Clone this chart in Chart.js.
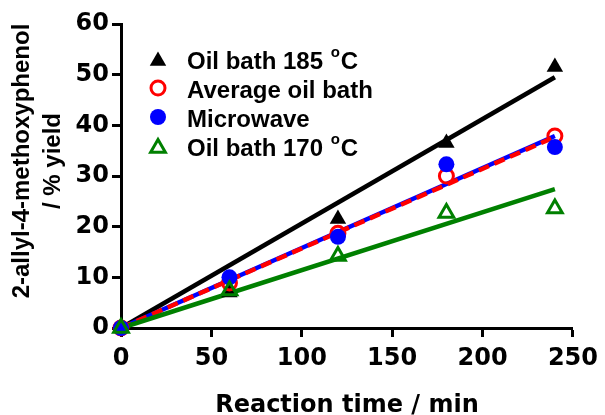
<!DOCTYPE html>
<html>
<head>
<meta charset="utf-8">
<script src="https://cdn.jsdelivr.net/npm/chart.js@4.4.1/dist/chart.umd.min.js"></script>
<style>
  html, body { margin: 0; padding: 0; background: #fff; }
</style>
</head>
<body>
<canvas id="chart" width="605" height="415"></canvas>
<script>
// reaction time (min) and yields (%)
const times = [0, 60, 120, 180, 240];
const oil185 = [0, 7.0, 21.5, 36.5, 51.5];
const oilAvg = [0, 8.9, 18.7, 30.0, 37.9];
const microwave = [0, 10.0, 18.0, 32.3, 35.7];
const oil170 = [0, 7.4, 14.2, 22.7, 23.6];

// linear fits (through origin), end values at 240 min
const fitTimes = [0, 240];
const fit185 = [0, 49.5];
const fitAvg = [0, 37.7];
const fitMicrowave = [0, 37.9];
const fit170 = [0, 27.4];

const xTicks = [0, 50, 100, 150, 200, 250];
const yTicks = [0, 10, 20, 30, 40, 50, 60];

const seriesLabels = ['Oil bath 185 °C', 'Average oil bath', 'Microwave', 'Oil bath 170 °C'];
const xTitle = 'Reaction time / min';
const yTitle = ['2-allyl-4-methoxyphenol', '/ % yield'];

const xy = (xs, ys) => xs.map((x, i) => ({ x, y: ys[i] }));

const BLACK = '#000000', RED = '#ff0000', BLUE = '#0000ff', GREEN = '#008000';

const fitLine = (data, color, extra) => Object.assign({
  data,
  showLine: true,
  borderColor: color,
  backgroundColor: color,
  borderWidth: 4.5,
  pointRadius: 0,
  clip: false,
  order: 10
}, extra || {});

const markers = [
  { label: seriesLabels[0], data: xy(times, oil185), pointStyle: 'triangle', pointRadius: 9.5,
    backgroundColor: BLACK, borderColor: BLACK, borderWidth: 0, order: 4 },
  { label: seriesLabels[1], data: xy(times, oilAvg), pointStyle: 'circle', pointRadius: 7,
    backgroundColor: 'rgba(255,255,255,0)', borderColor: RED, borderWidth: 3, order: 3 },
  { label: seriesLabels[2], data: xy(times, microwave), pointStyle: 'circle', pointRadius: 8,
    backgroundColor: BLUE, borderColor: BLUE, borderWidth: 0, order: 2 },
  { label: seriesLabels[3], data: xy(times, oil170), pointStyle: 'triangle', pointRadius: 8.5,
    backgroundColor: 'rgba(255,255,255,0)', borderColor: GREEN, borderWidth: 3, order: 1 }
].map(d => Object.assign({ showLine: false, clip: false, pointHoverRadius: d.pointRadius }, d));

// legend inside the plot + axis titles
const decorations = {
  id: 'decorations',
  afterDraw(chart) {
    const ctx = chart.ctx;
    const area = chart.chartArea;

    ctx.save();
    ctx.fillStyle = BLACK;
    ctx.textBaseline = 'alphabetic';

    // x title
    ctx.font = 'bold 24px "DejaVu Sans"';
    ctx.textAlign = 'center';
    ctx.fillText(xTitle, (area.left + area.right) / 2, 412);

    // y title (two rotated lines)
    ctx.save();
    ctx.font = 'bold 24px "Liberation Sans"';
    ctx.translate(29, 161);
    ctx.rotate(-Math.PI / 2);
    ctx.fillText(yTitle[0], 0, 0);
    ctx.fillText(yTitle[1], 0, 31);
    ctx.restore();

    // legend
    ctx.textAlign = 'left';
    markers.forEach((d, i) => {
      const rowY = 59 + i * 29;
      const my = d.pointStyle === 'triangle' ? rowY + 2 : rowY;
      ctx.save();
      ctx.fillStyle = d.backgroundColor;
      ctx.strokeStyle = d.borderColor;
      ctx.lineWidth = d.borderWidth;
      Chart.helpers.drawPoint(ctx, {
        pointStyle: d.pointStyle, radius: d.pointRadius, rotation: 0, borderWidth: d.borderWidth
      }, 158, my);
      ctx.restore();

      const base = rowY + 10;
      let x = 187;
      const parts = d.label.split('°');
      ctx.font = 'bold 24px "Liberation Sans"';
      ctx.fillStyle = BLACK;
      ctx.fillText(parts[0], x, base);
      if (parts.length > 1) {
        x += ctx.measureText(parts[0]).width + 1;
        ctx.font = 'bold 15px "Liberation Sans"';
        ctx.fillText('o', x, base - 12);
        x += ctx.measureText('o').width + 1;
        ctx.font = 'bold 24px "Liberation Sans"';
        ctx.fillText(parts[1], x, base);
      }
    });
    ctx.restore();
  }
};

const tickFont = { family: 'DejaVu Sans', weight: 'bold', size: 24 };

new Chart(document.getElementById('chart'), {
  type: 'scatter',
  data: {
    datasets: [
      fitLine(xy(fitTimes, fit185), BLACK),
      fitLine(xy(fitTimes, fitMicrowave), BLUE, { order: 9 }),
      fitLine(xy(fitTimes, fitAvg), RED, { order: 8, borderDash: [11, 6] }),
      fitLine(xy(fitTimes, fit170), GREEN, { order: 7 }),
      ...markers
    ]
  },
  options: {
    responsive: false,
    animation: false,
    devicePixelRatio: 1,
    layout: { padding: { top: 24, right: 27, left: 0, bottom: 0 } },
    plugins: {
      legend: { display: false },
      tooltip: { enabled: false }
    },
    scales: {
      x: {
        type: 'linear',
        min: 0,
        max: 250,
        afterBuildTicks: s => { s.ticks = xTicks.map(v => ({ value: v })); },
        afterFit: s => { s.height = 87; },
        grid: { drawOnChartArea: false, drawTicks: true, tickLength: 9, tickWidth: 3, tickColor: BLACK },
        border: { display: true, color: BLACK, width: 3 },
        ticks: { color: BLACK, font: tickFont, padding: 7, maxRotation: 0 }
      },
      y: {
        type: 'linear',
        min: 0,
        max: 60,
        afterBuildTicks: s => { s.ticks = yTicks.map(v => ({ value: v })); },
        afterFit: s => { s.width = 121; },
        grid: { drawOnChartArea: false, drawTicks: true, tickLength: 9, tickWidth: 3, tickColor: BLACK },
        border: { display: true, color: BLACK, width: 3 },
        ticks: { color: BLACK, font: tickFont, padding: 3 }
      }
    }
  },
  plugins: [decorations]
});
</script>
</body>
</html>
